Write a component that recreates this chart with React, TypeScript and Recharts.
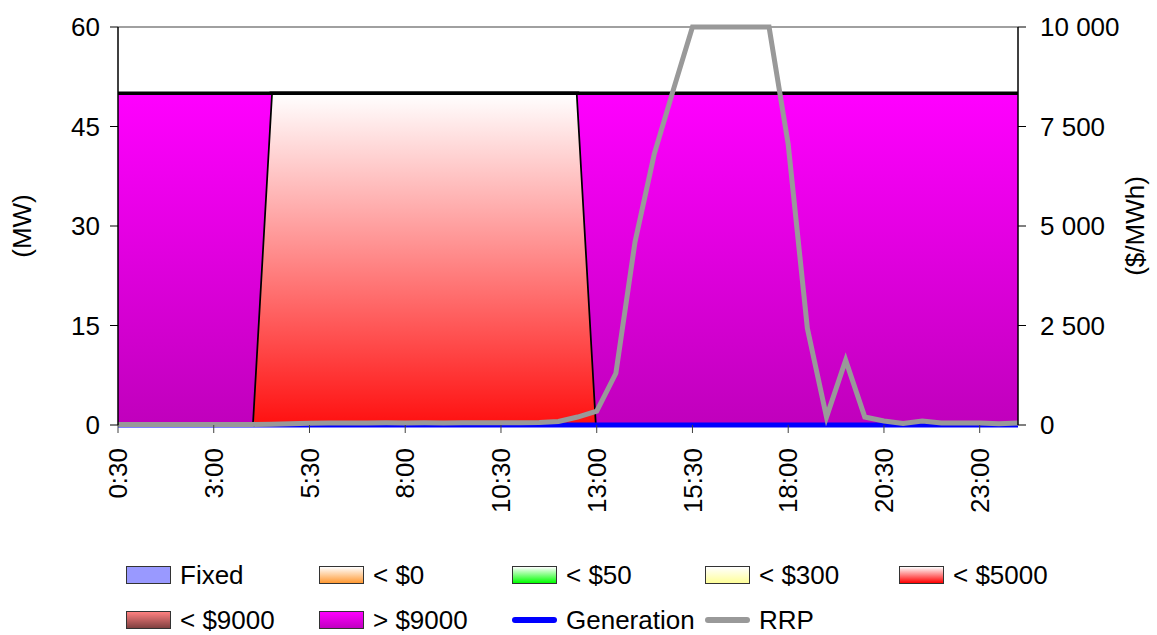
import { ComposedChart, Area, Line, XAxis, YAxis, ReferenceLine, Label } from "recharts"

const times = [
  "0:30", "1:00", "1:30", "2:00", "2:30", "3:00", "3:30", "4:00", "4:30", "5:00", "5:30", "6:00",
  "6:30", "7:00", "7:30", "8:00", "8:30", "9:00", "9:30", "10:00", "10:30", "11:00", "11:30", "12:00",
  "12:30", "13:00", "13:30", "14:00", "14:30", "15:00", "15:30", "16:00", "16:30", "17:00", "17:30", "18:00",
  "18:30", "19:00", "19:30", "20:00", "20:30", "21:00", "21:30", "22:00", "22:30", "23:00", "23:30", "24:00",
]

// MW offered in each price band
const under5000 = [
  0, 0, 0, 0, 0, 0, 0, 0, 50, 50, 50, 50,
  50, 50, 50, 50, 50, 50, 50, 50, 50, 50, 50, 50,
  50, 0, 0, 0, 0, 0, 0, 0, 0, 0, 0, 0,
  0, 0, 0, 0, 0, 0, 0, 0, 0, 0, 0, 0,
]
const over9000 = [
  50, 50, 50, 50, 50, 50, 50, 50, 0, 0, 0, 0,
  0, 0, 0, 0, 0, 0, 0, 0, 0, 0, 0, 0,
  0, 50, 50, 50, 50, 50, 50, 50, 50, 50, 50, 50,
  50, 50, 50, 50, 50, 50, 50, 50, 50, 50, 50, 50,
]
const generation = [
  0, 0, 0, 0, 0, 0, 0, 0, 0, 0, 0, 0,
  0, 0, 0, 0, 0, 0, 0, 0, 0, 0, 0, 0,
  0, 0, 0, 0, 0, 0, 0, 0, 0, 0, 0, 0,
  0, 0, 0, 0, 0, 0, 0, 0, 0, 0, 0, 0,
]
// $/MWh
const rrp = [
  10, 10, 10, 10, 10, 10, 15, 15, 20, 30, 45, 50,
  50, 50, 55, 50, 55, 50, 55, 55, 55, 55, 60, 90,
  200, 350, 1300, 4600, 6800, 8420, 10000, 10000, 10000, 10000, 10000, 7050,
  2430, 200, 1630, 200, 100, 40, 100, 50, 50, 50, 30, 50,
]

const mwTicks = [0, 15, 30, 45, 60]
const priceTicks = [0, 2500, 5000, 7500, 10000]

const data = times.map((t, i) => ({
  time: t,
  under5000: under5000[i],
  over9000: over9000[i],
  generation: generation[i],
  rrp: rrp[i],
}))

const legendItems = [
  { label: "Fixed", bg: "#9999ff" },
  { label: "< $0", bg: "linear-gradient(to bottom, #ffffff, #ff9933)" },
  { label: "< $50", bg: "linear-gradient(to bottom, #ffffff, #00ff00)" },
  { label: "< $300", bg: "linear-gradient(to bottom, #ffffff, #ffff99)" },
  { label: "< $5000", bg: "linear-gradient(to bottom, #ffffff, #ff0000)" },
  { label: "< $9000", bg: "linear-gradient(to bottom, #ff8080, #804040)" },
  { label: "> $9000", bg: "linear-gradient(to bottom, #ff00ff, #c000c0)" },
  { label: "Generation", line: "#0000ff" },
  { label: "RRP", line: "#999999" },
]

const fmtPrice = (v: number) => String(v).replace(/\B(?=(\d{3})+(?!\d))/g, " ")

const XTick = ({ x, y, payload }: any) => (
  <text
    x={x}
    y={y}
    transform={`rotate(-90 ${x} ${y})`}
    textAnchor="end"
    dy="0.35em"
    fontSize={26}
    fill="#000"
  >
    {payload.value}
  </text>
)

const sideLabel = (text: string, x: number) => () => (
  <text
    x={x}
    y={226}
    transform={`rotate(-90 ${x} 226)`}
    textAnchor="middle"
    dy="0.35em"
    fontSize={26}
    fill="#000"
  >
    {text}
  </text>
)

const colX = [126, 319, 512, 705, 899]
const rowY = [575, 620]

export default function App() {
  return (
    <div
      style={{
        position: "absolute",
        left: 0,
        top: 0,
        width: 1157,
        height: 635,
        background: "#fff",
        fontFamily: "'Liberation Sans', Arial, sans-serif",
      }}
    >
      <ComposedChart width={1157} height={635} data={data} margin={{ top: 27, right: 0, left: 0, bottom: 0 }}>
        <defs>
          <linearGradient id="gRed" x1="0" y1="0" x2="0" y2="1">
            <stop offset="0%" stopColor="#ffffff" />
            <stop offset="100%" stopColor="#ff1010" />
          </linearGradient>
          <linearGradient id="gMag" x1="0" y1="0" x2="0" y2="1">
            <stop offset="0%" stopColor="#ff00ff" />
            <stop offset="100%" stopColor="#c000bc" />
          </linearGradient>
        </defs>
        <XAxis
          dataKey="time"
          scale="point"
          interval={4}
          height={210}
          tickSize={8}
          tickMargin={15}
          tick={<XTick />}
          axisLine={false}
          tickLine={{ stroke: "#404040" }}
        />
        <YAxis
          yAxisId="left"
          orientation="left"
          width={118}
          domain={[0, 60]}
          ticks={mwTicks}
          tickSize={8}
          tickMargin={10}
          tick={{ fontSize: 26, fill: "#000" }}
          axisLine={{ stroke: "#000", strokeWidth: 1.5 }}
          tickLine={{ stroke: "#000" }}
        >
          <Label content={sideLabel("(MW)", 22)} />
        </YAxis>
        <YAxis
          yAxisId="right"
          orientation="right"
          width={139}
          domain={[0, 10000]}
          ticks={priceTicks}
          tickFormatter={fmtPrice}
          tickSize={8}
          tickMargin={14}
          tick={{ fontSize: 26, fill: "#000" }}
          axisLine={{ stroke: "#000", strokeWidth: 1.5 }}
          tickLine={{ stroke: "#000" }}
        >
          <Label content={sideLabel("($/MWh)", 1135)} />
        </YAxis>
        <ReferenceLine yAxisId="left" y={60} stroke="#808080" strokeWidth={1.5} />
        <Area
          yAxisId="left"
          type="linear"
          dataKey="under5000"
          stackId="mw"
          fill="url(#gRed)"
          fillOpacity={1}
          stroke="#000"
          strokeWidth={3.5}
          isAnimationActive={false}
        />
        <Area
          yAxisId="left"
          type="linear"
          dataKey="over9000"
          stackId="mw"
          fill="url(#gMag)"
          fillOpacity={1}
          stroke="#000"
          strokeWidth={3.5}
          isAnimationActive={false}
        />
        <Line
          yAxisId="left"
          type="linear"
          dataKey="generation"
          stroke="#0000ff"
          strokeWidth={5}
          dot={false}
          isAnimationActive={false}
        />
        <Line
          yAxisId="right"
          type="linear"
          dataKey="rrp"
          stroke="#999999"
          strokeWidth={5}
          dot={false}
          isAnimationActive={false}
        />
      </ComposedChart>
      {legendItems.map((it, i) => {
        const left = colX[i % 5]
        const top = rowY[Math.floor(i / 5)]
        return (
          <div
            key={it.label}
            style={{
              position: "absolute",
              left,
              top: top - 16,
              height: 32,
              display: "flex",
              alignItems: "center",
              fontSize: 26,
              color: "#000",
              whiteSpace: "nowrap",
            }}
          >
            {it.line ? (
              <div style={{ width: 45, height: 6, borderRadius: 3, background: it.line, marginRight: 9 }} />
            ) : (
              <div
                style={{
                  width: 43,
                  height: 16,
                  border: "1.5px solid #333",
                  background: it.bg,
                  marginRight: 9,
                }}
              />
            )}
            <span>{it.label}</span>
          </div>
        )
      })}
    </div>
  )
}
